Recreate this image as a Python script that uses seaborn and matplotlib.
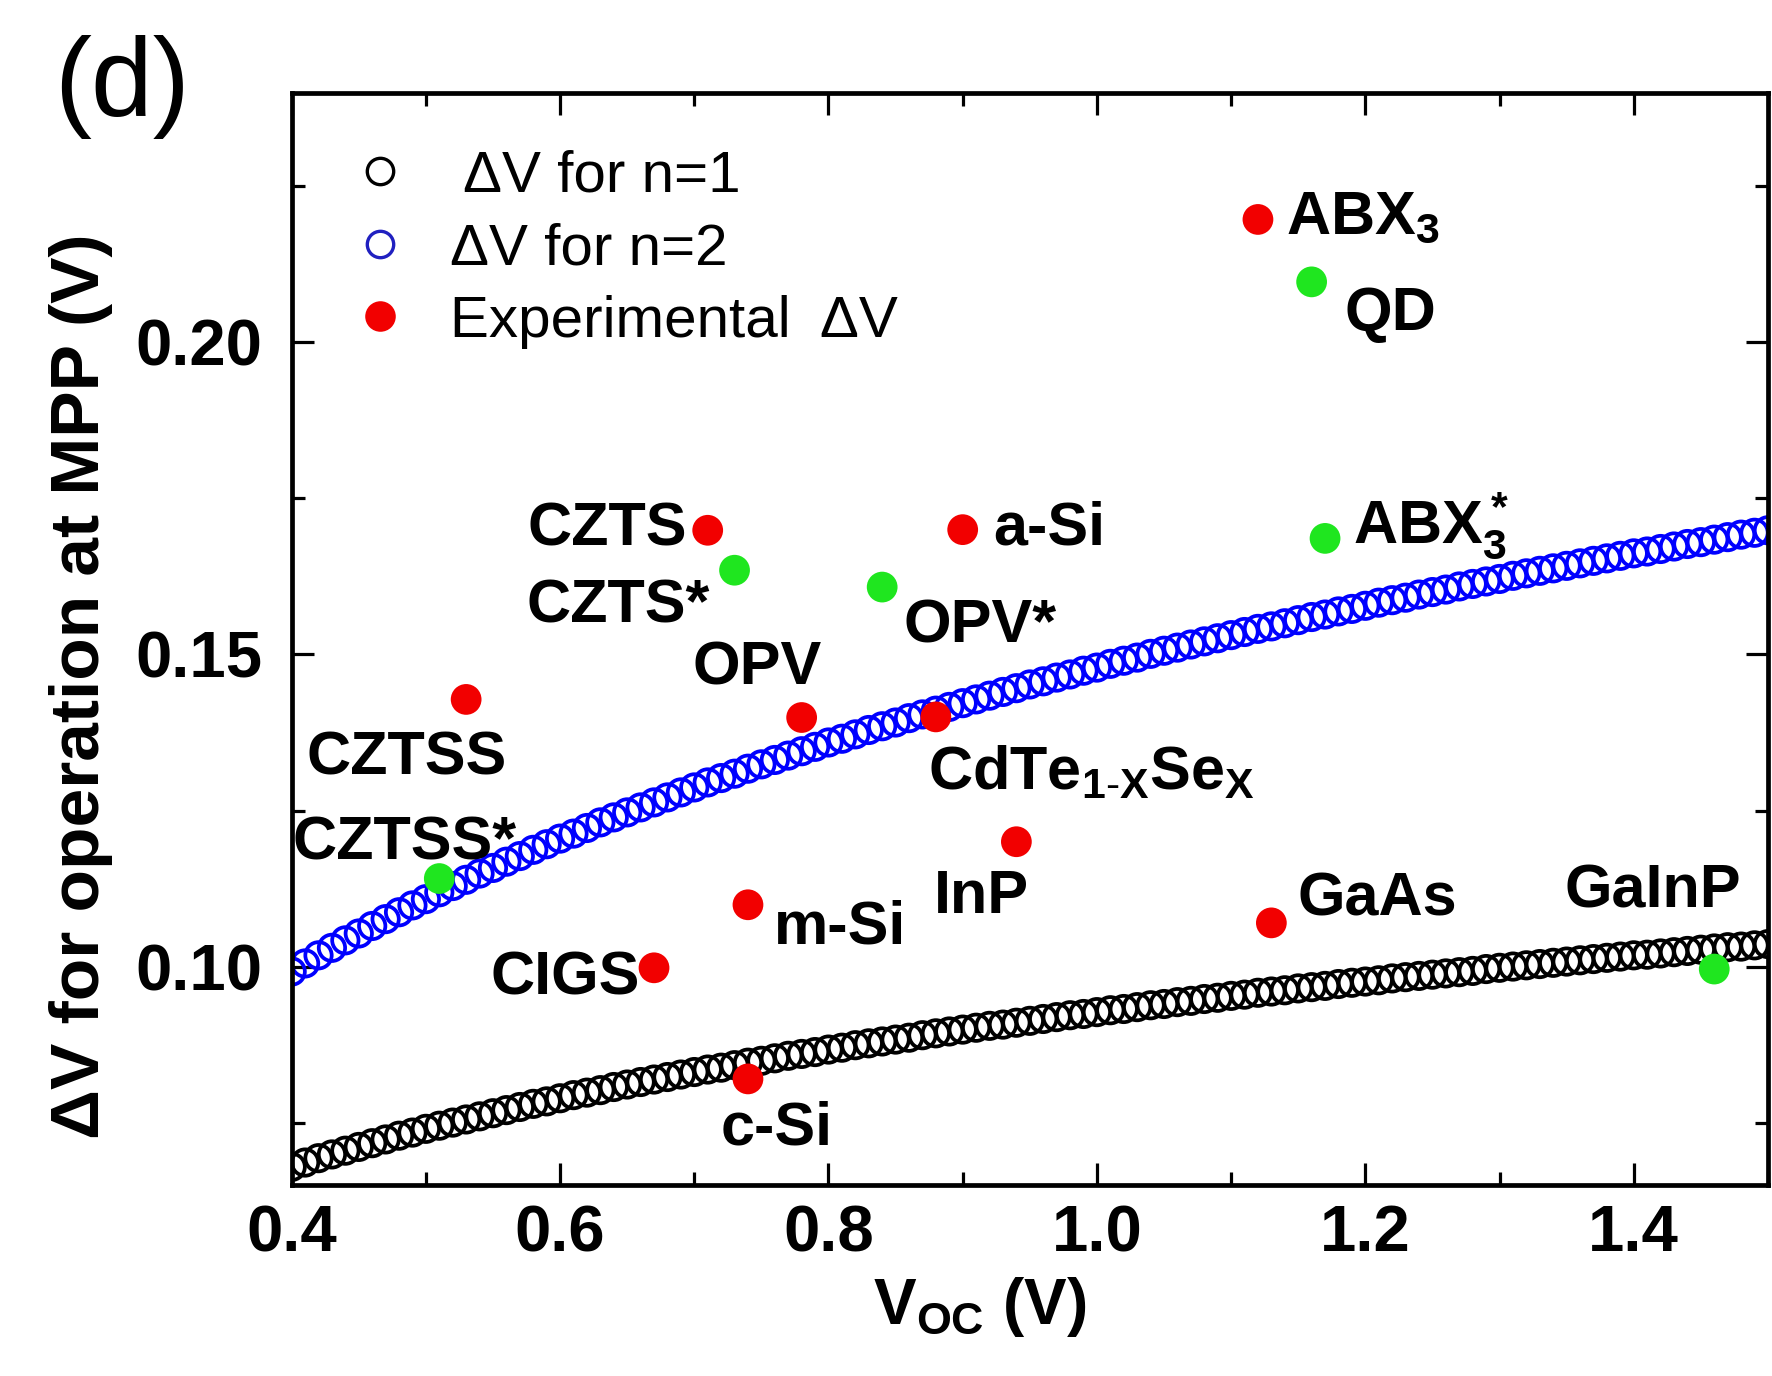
import numpy as np
import pandas as pd
import matplotlib
matplotlib.use("Agg")
import matplotlib.pyplot as plt
from matplotlib.lines import Line2D
from matplotlib.ticker import MultipleLocator
import seaborn as sns

sns.set_theme(style="ticks")
plt.rcParams['font.family'] = ['Liberation Sans', 'DejaVu Sans']
plt.rcParams['mathtext.fontset'] = 'custom'
plt.rcParams['mathtext.rm'] = 'Liberation Sans'
plt.rcParams['mathtext.bf'] = 'Liberation Sans:bold'
plt.rcParams['mathtext.default'] = 'bf'
for key in ['text.color', 'axes.labelcolor', 'xtick.color', 'ytick.color', 'axes.edgecolor']:
    plt.rcParams[key] = 'black'

# Voc grid of the simulated curves (V)
voc = np.round(np.arange(0.40, 1.5001, 0.01), 2)

# delta V at MPP, ideality factor n=1
dv_n1 = [0.0679, 0.0686, 0.0693, 0.0699, 0.0705, 0.0711, 0.0717, 0.0723, 0.0729, 0.0734, 0.0740,
         0.0745, 0.0750, 0.0755, 0.0760, 0.0765, 0.0770, 0.0775, 0.0780, 0.0784, 0.0789,
         0.0794, 0.0798, 0.0802, 0.0807, 0.0811, 0.0815, 0.0819, 0.0823, 0.0827, 0.0831,
         0.0835, 0.0838, 0.0842, 0.0846, 0.0849, 0.0853, 0.0857, 0.0860, 0.0863, 0.0867,
         0.0870, 0.0874, 0.0877, 0.0880, 0.0883, 0.0886, 0.0890, 0.0893, 0.0896, 0.0899,
         0.0902, 0.0905, 0.0907, 0.0910, 0.0913, 0.0916, 0.0919, 0.0922, 0.0924, 0.0927,
         0.0930, 0.0932, 0.0935, 0.0938, 0.0940, 0.0943, 0.0945, 0.0948, 0.0950, 0.0953,
         0.0955, 0.0958, 0.0960, 0.0962, 0.0965, 0.0967, 0.0969, 0.0972, 0.0974, 0.0976,
         0.0978, 0.0981, 0.0983, 0.0985, 0.0987, 0.0989, 0.0991, 0.0993, 0.0996, 0.0998,
         0.1000, 0.1002, 0.1004, 0.1006, 0.1008, 0.1010, 0.1012, 0.1014, 0.1016, 0.1018,
         0.1019, 0.1021, 0.1023, 0.1025, 0.1027, 0.1029, 0.1031, 0.1032, 0.1034, 0.1036]

# delta V at MPP, n=2
dv_n2 = [0.0992, 0.1005, 0.1018, 0.1030, 0.1042, 0.1053, 0.1065, 0.1076, 0.1087, 0.1098, 0.1108,
         0.1119, 0.1129, 0.1139, 0.1149, 0.1158, 0.1168, 0.1177, 0.1187, 0.1196, 0.1205,
         0.1213, 0.1222, 0.1231, 0.1239, 0.1247, 0.1255, 0.1263, 0.1271, 0.1279, 0.1287,
         0.1295, 0.1302, 0.1309, 0.1317, 0.1324, 0.1331, 0.1338, 0.1345, 0.1352, 0.1359,
         0.1365, 0.1372, 0.1379, 0.1385, 0.1391, 0.1398, 0.1404, 0.1410, 0.1416, 0.1422,
         0.1428, 0.1434, 0.1440, 0.1446, 0.1452, 0.1457, 0.1463, 0.1468, 0.1474, 0.1479,
         0.1485, 0.1490, 0.1495, 0.1501, 0.1506, 0.1511, 0.1516, 0.1521, 0.1526, 0.1531,
         0.1536, 0.1541, 0.1545, 0.1550, 0.1555, 0.1560, 0.1564, 0.1569, 0.1573, 0.1578,
         0.1583, 0.1587, 0.1591, 0.1596, 0.1600, 0.1604, 0.1609, 0.1613, 0.1617, 0.1621,
         0.1626, 0.1630, 0.1634, 0.1638, 0.1642, 0.1646, 0.1650, 0.1654, 0.1658, 0.1662,
         0.1665, 0.1669, 0.1673, 0.1677, 0.1680, 0.1684, 0.1688, 0.1692, 0.1695, 0.1699]

# experimental devices
materials = ['ABX$_3$', 'QD', 'CZTS', 'CZTS*', 'a-Si', 'OPV*', 'ABX$_3^*$', 'CZTSS', 'OPV',
             r'CdTe$_{1\text{-}X}$Se$_X$', 'InP', 'CZTSS*', 'm-Si', 'GaAs', 'CIGS', 'c-Si', 'GaInP']
mat_voc = [1.12, 1.16, 0.71, 0.73, 0.90, 0.84, 1.17, 0.53, 0.78,
           0.88, 0.94, 0.51, 0.74, 1.13, 0.67, 0.74, 1.46]
mat_dv = [0.2197, 0.2097, 0.1699, 0.1635, 0.1700, 0.1608, 0.1686, 0.1428, 0.1399,
          0.1400, 0.1200, 0.1141, 0.1099, 0.1070, 0.0998, 0.0820, 0.0996]
mat_kind = ['exp', 'star', 'exp', 'star', 'exp', 'star', 'star', 'exp', 'exp',
            'exp', 'exp', 'star', 'exp', 'exp', 'exp', 'exp', 'star']

# label offsets (points) and alignment, same order as materials
label_dx = [20, 24, -15, -18, 22, 15, 20, -43, -32, -6, -25, -106, 19, 19, -10, 21, -44]
label_dy = [-10, -35, -11, -38, -11, -40, -4, -54, 24, -52, -51, 14, -28, 5, -19, -47, 44]
label_ha = ['left', 'left', 'right', 'right', 'left', 'left', 'left', 'center', 'center',
            'left', 'center', 'left', 'left', 'left', 'right', 'center', 'center']

curves = pd.DataFrame({'voc': voc, 'n1': dv_n1, 'n2': dv_n2})
devices = pd.DataFrame({'name': materials, 'voc': mat_voc, 'dv': mat_dv, 'kind': mat_kind})

fig = plt.figure(figsize=(17.72, 13.76), dpi=100)
ax = fig.add_axes([0.1646, 0.1388, 0.8331, 0.7938])

sns.scatterplot(data=curves, x='voc', y='n1', ax=ax, s=360, facecolors='none',
                edgecolor='black', linewidth=2.7, zorder=2, legend=False)
sns.scatterplot(data=curves, x='voc', y='n2', ax=ax, s=360, facecolors='none',
                edgecolor='#0000ff', linewidth=2.7, zorder=2, legend=False)
sns.scatterplot(data=devices, x='voc', y='dv', hue='kind', ax=ax, s=490, linewidth=0,
                palette={'exp': '#f20000', 'star': '#1fe61f'}, zorder=3, legend=False)

for i, row in devices.iterrows():
    ax.annotate(row['name'], (row['voc'], row['dv']), xytext=(label_dx[i], label_dy[i]),
                textcoords='offset points', ha=label_ha[i], va='baseline',
                fontsize=44, fontweight='bold', color='black')

ax.set_xlim(0.4, 1.5)
ax.set_ylim(0.065, 0.24)
ax.xaxis.set_minor_locator(MultipleLocator(0.1))
ax.yaxis.set_minor_locator(MultipleLocator(0.025))
ax.set_xticks([0.4, 0.6, 0.8, 1.0, 1.2, 1.4])
ax.set_xticklabels(['0.4', '0.6', '0.8', '1.0', '1.2', '1.4'])
ax.set_yticks([0.10, 0.15, 0.20])
ax.set_yticklabels(['0.10', '0.15', '0.20'])
ax.tick_params(which='both', direction='in', top=True, right=True, width=2.3, color='black')
ax.tick_params(which='major', length=16, labelsize=47)
ax.tick_params(axis='x', which='major', pad=14)
ax.tick_params(axis='y', which='major', pad=21)
ax.tick_params(which='minor', length=9.5)
for lab in ax.get_xticklabels() + ax.get_yticklabels():
    lab.set_fontweight('bold')
for sp in ax.spines.values():
    sp.set_linewidth(3.4)

ax.set_xlabel('$V_{OC}$ (V)', fontsize=46, fontweight='bold')
ax.xaxis.set_label_coords(0.466, -0.082)
ax.set_ylabel('ΔV for operation at MPP (V)', fontsize=50, fontweight='bold')
ax.yaxis.set_label_coords(-0.121, 0.457)

handles = [
    Line2D([], [], ls='none', marker='o', mfc='none', mec='black', mew=2.4, ms=19),
    Line2D([], [], ls='none', marker='o', mfc='none', mec='#2020c0', mew=2.4, ms=19),
    Line2D([], [], ls='none', marker='o', mfc='#f20000', mec='#f20000', mew=0, ms=22),
]
ax.legend(handles, [' ΔV for n=1', 'ΔV for n=2', 'Experimental  ΔV'],
          loc='upper left', bbox_to_anchor=(0.040, 0.948), frameon=False,
          fontsize=42, borderpad=0, borderaxespad=0, handlelength=1.0,
          handletextpad=0.7, labelspacing=0.32, numpoints=1)

fig.text(0.069, 0.937, '(d)', fontsize=80, ha='center', va='center')

fig.savefig('out.png', dpi=100)
